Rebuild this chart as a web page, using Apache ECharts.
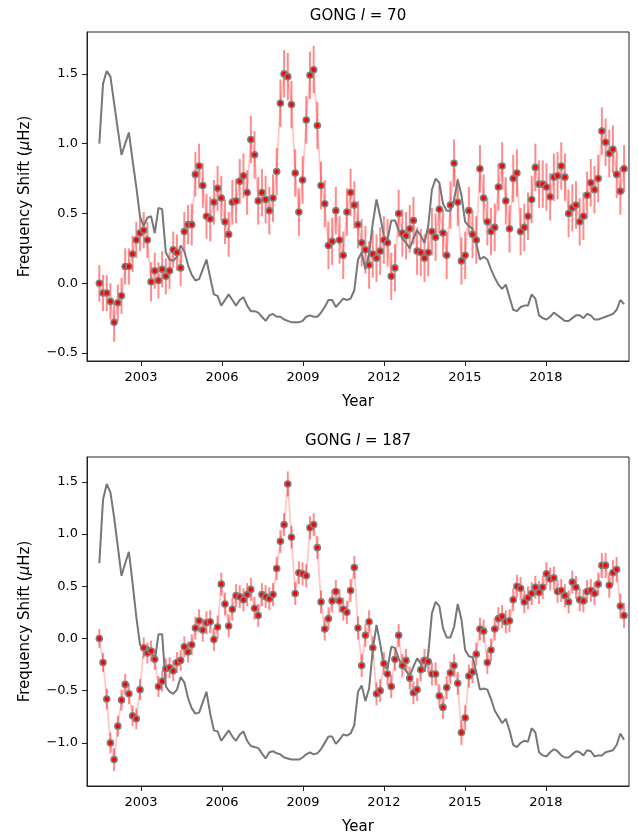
<!DOCTYPE html>
<html>
<head>
<meta charset="utf-8">
<script src="https://cdn.jsdelivr.net/npm/echarts@6/dist/echarts.min.js"></script>
<style>
html,body{margin:0;padding:0;background:#fff;}
#chart{width:638px;height:837px;}
</style>
</head>
<body>
<div id="chart"></div>
<script>
const years = [
2001.457,2001.594,2001.731,2001.868,2002.005,2002.142,2002.278,2002.415,2002.552,2002.689,
2002.826,2002.963,2003.100,2003.237,2003.374,2003.511,2003.647,2003.784,2003.921,2004.058,
2004.195,2004.332,2004.469,2004.606,2004.743,2004.880,2005.016,2005.153,2005.290,2005.427,
2005.564,2005.701,2005.838,2005.975,2006.112,2006.249,2006.385,2006.522,2006.659,2006.796,
2006.933,2007.070,2007.207,2007.344,2007.481,2007.618,2007.754,2007.891,2008.028,2008.165,
2008.302,2008.439,2008.576,2008.713,2008.850,2008.987,2009.123,2009.260,2009.397,2009.534,
2009.671,2009.808,2009.945,2010.082,2010.219,2010.356,2010.492,2010.629,2010.766,2010.903,
2011.040,2011.177,2011.314,2011.451,2011.588,2011.725,2011.861,2011.998,2012.135,2012.272,
2012.409,2012.546,2012.683,2012.820,2012.957,2013.094,2013.230,2013.367,2013.504,2013.641,
2013.778,2013.915,2014.052,2014.189,2014.326,2014.463,2014.599,2014.736,2014.873,2015.010,
2015.147,2015.284,2015.421,2015.558,2015.695,2015.832,2015.968,2016.105,2016.242,2016.379,
2016.516,2016.653,2016.790,2016.927,2017.064,2017.201,2017.337,2017.474,2017.611,2017.748,
2017.885,2018.022,2018.159,2018.296,2018.433,2018.570,2018.706,2018.843,2018.980,2019.117,
2019.254,2019.391,2019.528,2019.665,2019.802,2019.939,2020.075,2020.212,2020.349,2020.486,
2020.623,2020.760,2020.897];

const shift70 = [
0.00,-0.07,-0.07,-0.13,-0.28,-0.14,-0.09,0.12,0.12,0.21,
0.31,0.36,0.38,0.31,0.01,0.09,0.02,0.10,0.05,0.09,
0.24,0.22,0.11,0.37,0.42,0.42,0.78,0.84,0.70,0.48,
0.46,0.58,0.68,0.61,0.44,0.35,0.58,0.59,0.73,0.77,
0.65,1.03,0.92,0.59,0.65,0.60,0.52,0.61,0.80,1.29,
1.50,1.48,1.28,0.79,0.51,0.74,1.17,1.49,1.53,1.13,
0.70,0.57,0.27,0.30,0.52,0.31,0.20,0.51,0.65,0.56,
0.42,0.29,0.24,0.13,0.21,0.18,0.23,0.31,0.29,0.05,
0.11,0.50,0.36,0.34,0.39,0.45,0.23,0.22,0.18,0.22,
0.37,0.33,0.53,0.36,0.20,0.56,0.86,0.58,0.16,0.20,
0.52,0.35,0.31,0.82,0.61,0.44,0.37,0.40,0.69,0.84,
0.59,0.39,0.75,0.79,0.37,0.40,0.48,0.60,0.83,0.71,
0.71,0.69,0.62,0.76,0.77,0.84,0.76,0.50,0.54,0.56,
0.44,0.48,0.63,0.72,0.67,0.75,1.09,1.01,0.93,0.96,
0.78,0.66,0.82];

const err70 = [
0.13,0.13,0.13,0.13,0.14,0.13,0.13,0.13,0.13,0.13,
0.13,0.13,0.13,0.13,0.14,0.13,0.13,0.13,0.13,0.13,
0.13,0.13,0.13,0.14,0.14,0.15,0.16,0.16,0.16,0.16,
0.16,0.16,0.16,0.16,0.16,0.16,0.16,0.16,0.16,0.16,
0.16,0.17,0.17,0.17,0.17,0.17,0.17,0.17,0.17,0.17,
0.17,0.17,0.17,0.17,0.17,0.17,0.17,0.17,0.17,0.17,
0.17,0.17,0.17,0.17,0.17,0.17,0.17,0.17,0.17,0.17,
0.17,0.17,0.17,0.17,0.17,0.17,0.17,0.17,0.17,0.17,
0.17,0.17,0.17,0.17,0.17,0.17,0.17,0.17,0.17,0.17,
0.17,0.17,0.17,0.17,0.17,0.17,0.17,0.17,0.17,0.17,
0.17,0.17,0.17,0.17,0.17,0.17,0.17,0.17,0.17,0.17,
0.17,0.17,0.17,0.17,0.17,0.17,0.17,0.17,0.17,0.17,
0.17,0.17,0.17,0.17,0.17,0.17,0.17,0.17,0.17,0.17,
0.17,0.17,0.17,0.17,0.17,0.17,0.17,0.17,0.17,0.17,
0.17,0.17,0.17];

const activity70 = [
1.00,1.43,1.52,1.48,1.29,1.10,0.92,1.00,1.08,0.88,
0.69,0.48,0.41,0.47,0.48,0.36,0.54,0.53,0.22,0.17,
0.16,0.19,0.27,0.23,0.13,0.06,0.02,0.03,0.10,0.17,
0.04,-0.08,-0.09,-0.16,-0.12,-0.08,-0.12,-0.16,-0.12,-0.10,
-0.16,-0.20,-0.20,-0.21,-0.24,-0.27,-0.23,-0.22,-0.24,-0.24,
-0.26,-0.27,-0.28,-0.28,-0.28,-0.27,-0.24,-0.23,-0.24,-0.24,
-0.21,-0.17,-0.12,-0.12,-0.17,-0.14,-0.11,-0.12,-0.11,-0.05,
0.17,0.22,0.10,0.21,0.43,0.60,0.48,0.34,0.31,0.45,
0.45,0.38,0.32,0.29,0.25,0.32,0.38,0.34,0.29,0.41,
0.67,0.75,0.72,0.57,0.52,0.52,0.60,0.74,0.63,0.44,
0.41,0.39,0.29,0.17,0.19,0.17,0.10,0.04,-0.01,-0.04,
-0.01,-0.10,-0.19,-0.20,-0.17,-0.16,-0.16,-0.08,-0.11,-0.23,
-0.25,-0.26,-0.24,-0.21,-0.23,-0.25,-0.27,-0.27,-0.25,-0.23,
-0.23,-0.25,-0.22,-0.23,-0.26,-0.26,-0.25,-0.24,-0.23,-0.22,
-0.19,-0.12,-0.15];

const shift187 = [
0.00,-0.23,-0.58,-1.00,-1.16,-0.84,-0.59,-0.44,-0.53,-0.74,
-0.77,-0.49,-0.09,-0.14,-0.12,-0.20,-0.46,-0.41,-0.29,-0.28,
-0.31,-0.23,-0.21,-0.08,-0.13,-0.06,0.10,0.17,0.08,0.15,
0.16,-0.01,0.11,0.52,0.33,0.12,0.28,0.41,0.40,0.37,
0.42,0.47,0.29,0.22,0.42,0.40,0.38,0.42,0.67,0.93,
1.09,1.48,0.97,0.43,0.63,0.62,0.60,1.06,1.09,0.87,
0.35,0.09,0.19,0.36,0.45,0.36,0.28,0.25,0.46,0.68,
0.10,-0.26,0.03,0.16,-0.09,-0.53,-0.50,-0.24,-0.34,-0.46,
-0.20,0.03,-0.26,-0.21,-0.38,-0.52,-0.49,-0.30,-0.21,-0.22,
-0.34,-0.34,-0.55,-0.66,-0.47,-0.33,-0.26,-0.43,-0.90,-0.76,
-0.36,-0.32,-0.15,0.09,0.07,-0.23,-0.11,0.09,0.19,0.21,
0.16,0.17,0.37,0.50,0.48,0.35,0.39,0.43,0.49,0.44,
0.49,0.62,0.57,0.58,0.45,0.46,0.41,0.35,0.54,0.49,
0.37,0.36,0.45,0.46,0.43,0.52,0.70,0.70,0.51,0.63,
0.66,0.31,0.22];

const err187 = [
0.09,0.09,0.10,0.10,0.11,0.10,0.10,0.10,0.10,0.10,
0.10,0.10,0.10,0.10,0.10,0.10,0.10,0.10,0.10,0.10,
0.10,0.10,0.10,0.10,0.10,0.10,0.11,0.11,0.11,0.11,
0.11,0.11,0.11,0.11,0.11,0.11,0.11,0.11,0.11,0.11,
0.11,0.11,0.11,0.11,0.11,0.11,0.11,0.11,0.11,0.11,
0.11,0.12,0.11,0.11,0.11,0.11,0.11,0.11,0.11,0.11,
0.11,0.11,0.11,0.11,0.11,0.11,0.11,0.11,0.11,0.11,
0.11,0.11,0.11,0.11,0.11,0.11,0.11,0.11,0.11,0.11,
0.11,0.11,0.11,0.11,0.11,0.11,0.11,0.11,0.11,0.11,
0.11,0.11,0.11,0.11,0.11,0.11,0.11,0.11,0.12,0.12,
0.11,0.11,0.11,0.11,0.11,0.11,0.11,0.11,0.11,0.11,
0.11,0.11,0.11,0.11,0.11,0.11,0.11,0.11,0.11,0.11,
0.11,0.11,0.11,0.11,0.11,0.11,0.11,0.11,0.11,0.11,
0.11,0.11,0.11,0.11,0.11,0.11,0.12,0.12,0.12,0.12,
0.12,0.12,0.12];

const activity187 = [
0.72,1.33,1.48,1.40,1.16,0.88,0.60,0.72,0.83,0.53,
0.21,-0.06,-0.11,-0.08,-0.11,-0.22,0.04,0.04,-0.46,-0.51,
-0.53,-0.49,-0.37,-0.42,-0.57,-0.67,-0.72,-0.71,-0.61,-0.51,
-0.72,-0.88,-0.89,-0.98,-0.93,-0.88,-0.94,-0.98,-0.92,-0.89,
-0.98,-1.03,-1.04,-1.05,-1.10,-1.15,-1.09,-1.08,-1.10,-1.11,
-1.14,-1.15,-1.16,-1.16,-1.16,-1.14,-1.11,-1.09,-1.11,-1.10,
-1.06,-1.00,-0.94,-0.94,-1.01,-0.97,-0.92,-0.93,-0.91,-0.83,
-0.51,-0.45,-0.60,-0.48,-0.11,0.13,-0.05,-0.26,-0.29,-0.08,
-0.09,-0.19,-0.27,-0.31,-0.36,-0.27,-0.19,-0.24,-0.32,-0.15,
0.24,0.35,0.31,0.10,0.01,0.01,0.11,0.33,0.18,-0.11,
-0.17,-0.18,-0.32,-0.49,-0.48,-0.49,-0.58,-0.69,-0.75,-0.81,
-0.77,-0.88,-1.02,-1.04,-1.00,-0.98,-0.99,-0.86,-0.90,-1.09,
-1.12,-1.13,-1.09,-1.06,-1.08,-1.12,-1.14,-1.14,-1.11,-1.08,
-1.09,-1.12,-1.07,-1.08,-1.13,-1.12,-1.12,-1.09,-1.08,-1.07,
-1.02,-0.91,-0.97];

const xTicks = [2003, 2006, 2009, 2012, 2015, 2018];
const yTicks70 = [-0.5, 0.0, 0.5, 1.0, 1.5];
const yTicks187 = [-1.0, -0.5, 0.0, 0.5, 1.0, 1.5];
const titles = ['70', '187'];

const FONT = 'DejaVu Sans';
const chart = echarts.init(document.getElementById('chart'), null, {renderer: 'canvas'});

function fmtY(v) {
  const s = Math.abs(v).toFixed(1);
  return v < -1e-9 ? '\u2212' + s : s;
}

function xAxisCfg(gi) {
  return {
    type: 'value', gridIndex: gi, min: 2001.0, max: 2021.08,
    name: 'Year', nameLocation: 'middle', nameGap: 34,
    nameTextStyle: {fontFamily: FONT, fontSize: 15, color: '#000'},
    axisLine: {show: true, onZero: false, lineStyle: {color: '#222', width: 1}},
    axisTick: {show: true, length: 5, lineStyle: {color: '#222', width: 1}, customValues: xTicks},
    axisLabel: {fontFamily: FONT, fontSize: 13, color: '#000', margin: 10, customValues: xTicks,
      formatter: v => String(Math.round(v))},
    splitLine: {show: false}
  };
}
function yAxisCfg(gi, mn, mx, ticks) {
  return {
    type: 'value', gridIndex: gi, min: mn, max: mx,
    name: 'Frequency Shift ({m|\u03bc}Hz)', nameLocation: 'middle', nameGap: 54,
    nameTextStyle: {fontFamily: FONT, fontSize: 15, color: '#000',
      rich: {m: {fontFamily: FONT, fontSize: 15, fontStyle: 'italic', color: '#000'}}},
    axisLine: {show: true, onZero: false, lineStyle: {color: '#222', width: 1}},
    axisTick: {show: true, length: 5, lineStyle: {color: '#222', width: 1}, customValues: ticks},
    axisLabel: {fontFamily: FONT, fontSize: 13, color: '#000', margin: 9, customValues: ticks,
      formatter: fmtY},
    splitLine: {show: false}
  };
}

function errSeries(idx, vals, errs) {
  return {
    type: 'custom', xAxisIndex: idx, yAxisIndex: idx, z: 3, silent: true,
    data: years.map((t, i) => [t, vals[i] - errs[i], vals[i] + errs[i]]),
    encode: {x: 0, y: [1, 2]},
    renderItem: function (params, api) {
      const p1 = api.coord([api.value(0), api.value(1)]);
      const p2 = api.coord([api.value(0), api.value(2)]);
      return {type: 'line', shape: {x1: p1[0], y1: p1[1], x2: p2[0], y2: p2[1]},
        style: {stroke: 'rgba(255,0,0,0.45)', lineWidth: 2}};
    }
  };
}
function connSeries(idx, vals) {
  return {
    type: 'line', xAxisIndex: idx, yAxisIndex: idx, z: 2, silent: true,
    data: years.map((t, i) => [t, vals[i]]), showSymbol: false, symbol: 'none',
    lineStyle: {color: 'rgba(255,0,0,0.22)', width: 1.8}
  };
}
function grayLine(idx, vals) {
  return {
    type: 'line', xAxisIndex: idx, yAxisIndex: idx, z: 4, silent: true,
    data: years.map((t, i) => [t, vals[i]]), showSymbol: false, symbol: 'none',
    lineStyle: {color: '#777777', width: 2}
  };
}
function markers(idx, vals) {
  return {
    type: 'scatter', xAxisIndex: idx, yAxisIndex: idx, z: 5, silent: true,
    data: years.map((t, i) => [t, vals[i]]), symbol: 'circle', symbolSize: 6,
    itemStyle: {color: '#ff0000', borderColor: '#7f7f7f', borderWidth: 1.6, opacity: 1}
  };
}

const option = {
  animation: false,
  backgroundColor: '#ffffff',
  grid: [
    {left: 87, top: 32, width: 542, height: 329, show: true, borderColor: '#222', borderWidth: 1, backgroundColor: 'transparent'},
    {left: 87, top: 457, width: 542, height: 329, show: true, borderColor: '#222', borderWidth: 1, backgroundColor: 'transparent'}
  ],
  xAxis: [xAxisCfg(0), xAxisCfg(1)],
  yAxis: [yAxisCfg(0, -0.557, 1.80, yTicks70), yAxisCfg(1, -1.413, 1.738, yTicks187)],
  graphic: [
    {type: 'text', x: 358, y: 16, z: 10, style: {text: 'GONG {i|l} = ' + titles[0],
      fontFamily: FONT, fontSize: 15, fill: '#000', align: 'center', verticalAlign: 'middle',
      rich: {i: {fontFamily: FONT, fontSize: 15, fontStyle: 'italic', fill: '#000'}}}},
    {type: 'text', x: 358, y: 441, z: 10, style: {text: 'GONG {i|l} = ' + titles[1],
      fontFamily: FONT, fontSize: 15, fill: '#000', align: 'center', verticalAlign: 'middle',
      rich: {i: {fontFamily: FONT, fontSize: 15, fontStyle: 'italic', fill: '#000'}}}}
  ],
  series: [
    connSeries(0, shift70), errSeries(0, shift70, err70), grayLine(0, activity70), markers(0, shift70),
    connSeries(1, shift187), errSeries(1, shift187, err187), grayLine(1, activity187), markers(1, shift187)
  ]
};
chart.setOption(option);
</script>
</body>
</html>
